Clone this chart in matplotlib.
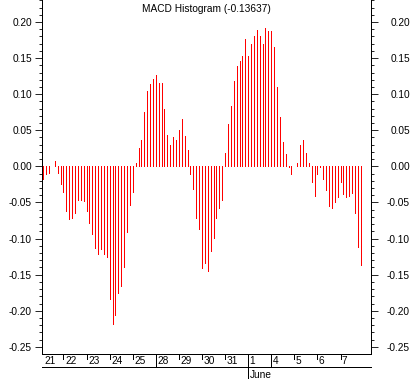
import matplotlib
matplotlib.use("Agg")
import matplotlib.pyplot as plt
import matplotlib.transforms as mtransforms
from matplotlib.lines import Line2D
from matplotlib.ticker import MultipleLocator, FormatStrFormatter

# ---------------- data ----------------
hist = [
    -0.017, -0.011, -0.009, 0.001, 0.008, -0.009, -0.025,                    # 21
    -0.036, -0.062, -0.073, -0.071, -0.065, -0.047, -0.047, -0.048,          # 22
    -0.062, -0.078, -0.093, -0.113, -0.121, -0.115, -0.122, -0.125,          # 23
    -0.184, -0.218, -0.206, -0.175, -0.166, -0.139, -0.091, -0.054,          # 24
    -0.036, 0.004, 0.026, 0.036, 0.075, 0.105, 0.114, 0.121,                 # 25
    0.127, 0.115, 0.116, 0.080, 0.043, 0.030, 0.040, 0.037,                  # 28
    0.051, 0.065, 0.042, 0.022, -0.011, -0.032, -0.071, -0.087,              # 29
    -0.141, -0.134, -0.145, -0.117, -0.099, -0.072, -0.058, -0.047,          # 30
    0.018, 0.059, 0.084, 0.118, 0.139, 0.146, 0.153, 0.177,                  # 31
    0.153, 0.170, 0.181, 0.189, 0.181, 0.170, 0.191, 0.187,                  # 1
    0.187, 0.166, 0.110, 0.068, 0.034, 0.017, -0.001, -0.011,                # 4
    0.000, 0.005, 0.030, 0.036, 0.018, 0.005, -0.021, -0.041,                # 5
    -0.010, -0.001, -0.018, -0.033, -0.055, -0.057, -0.050, -0.043,          # 6
    -0.022, -0.038, -0.042, -0.041, -0.037, -0.065, -0.112, -0.136,          # 7
]
day_labels = ["21", "22", "23", "24", "25", "28", "29", "30", "31",
              "1", "4", "5", "6", "7"]
day_start = [0, 7, 15, 23, 31, 39, 47, 55, 63, 71, 79, 87, 95, 103]
week_start_days = ["21", "28", "4"]
month_label = "June"
month_start_day = "1"
title = "MACD Histogram (-0.13637)"
y_major = [-0.25, -0.20, -0.15, -0.10, -0.05, 0.00, 0.05, 0.10, 0.15, 0.20]

# ---------------- figure ----------------
W, H = 412, 379
FONT = "Liberation Sans"
FS = 7.3
LW = 0.6
plt.rcParams["font.family"] = [FONT, "DejaVu Sans"]
plt.rcParams["font.size"] = FS

fig = plt.figure(figsize=(W / 100, H / 100), dpi=100)
L, R, T, B = 42, 371, 0, 354
ax = fig.add_axes([L / W, 1 - B / H, (R - L) / W, (B - T) / H])

x = list(range(len(hist)))
ax.vlines(x, 0, hist, colors="#ff0000", linewidth=LW, antialiased=False)

ax.set_xlim(-0.45, 113.57)
ax.set_ylim(-0.2598, 0.2304)

ax.spines["top"].set_visible(False)
for s in ["left", "right", "bottom"]:
    ax.spines[s].set_linewidth(LW)
    ax.spines[s].set_antialiased(False)

ax.set_xticks([])
ax.yaxis.set_major_locator(plt.FixedLocator(y_major))
ax.yaxis.set_minor_locator(MultipleLocator(0.01))
ax.yaxis.set_major_formatter(FormatStrFormatter("%.2f"))
ax.tick_params(axis="y", which="major", direction="out", length=5.0, width=LW,
               pad=2.2, labelsize=FS)
ax.tick_params(axis="y", which="minor", direction="out", length=2.5, width=LW)

ax2 = ax.twinx()
ax2.set_ylim(ax.get_ylim())
for s in ["top", "left", "bottom", "right"]:
    ax2.spines[s].set_visible(False)
ax2.yaxis.set_major_locator(plt.FixedLocator(y_major))
ax2.yaxis.set_minor_locator(MultipleLocator(0.01))
ax2.yaxis.set_major_formatter(FormatStrFormatter("%.2f"))
ax2.tick_params(axis="y", which="major", direction="out", length=5.0, width=LW,
                pad=23.0, labelsize=FS)
ax2.tick_params(axis="y", which="minor", direction="out", length=2.5, width=LW)
for lab in ax2.get_yticklabels():
    lab.set_horizontalalignment("right")

# title
ax.text(0.5, 1 - 12 / (B - T), title, transform=ax.transAxes,
        ha="center", va="baseline", fontsize=FS)

# ---------------- date row ----------------
def fy(px):
    return 1 - px / H

trans = mtransforms.blended_transform_factory(ax.transData, fig.transFigure)
lab_trans = mtransforms.offset_copy(trans, fig=fig, x=1.5, y=0, units="dots")

for lab, i in zip(day_labels, day_start):
    if lab == month_start_day:
        y0, y1 = 354, 379
    elif lab in week_start_days:
        y0, y1 = 354, 367
    else:
        y0, y1 = 354, 358.5
    if i > 0:
        fig.add_artist(Line2D([i, i], [fy(y0), fy(y1)], transform=trans,
                              color="black", linewidth=LW, antialiased=False))
    ax.text(i, fy(364), lab, transform=lab_trans, ha="left", va="baseline",
            fontsize=FS, clip_on=False)
    if lab == month_start_day:
        ax.text(i, fy(378), month_label, transform=lab_trans, ha="left",
                va="baseline", fontsize=FS, clip_on=False)

fig.add_artist(Line2D([L / W, R / W], [fy(367), fy(367)], transform=fig.transFigure,
                      color="black", linewidth=LW, antialiased=False))

fig.savefig("out.png", dpi=100, facecolor="white")
